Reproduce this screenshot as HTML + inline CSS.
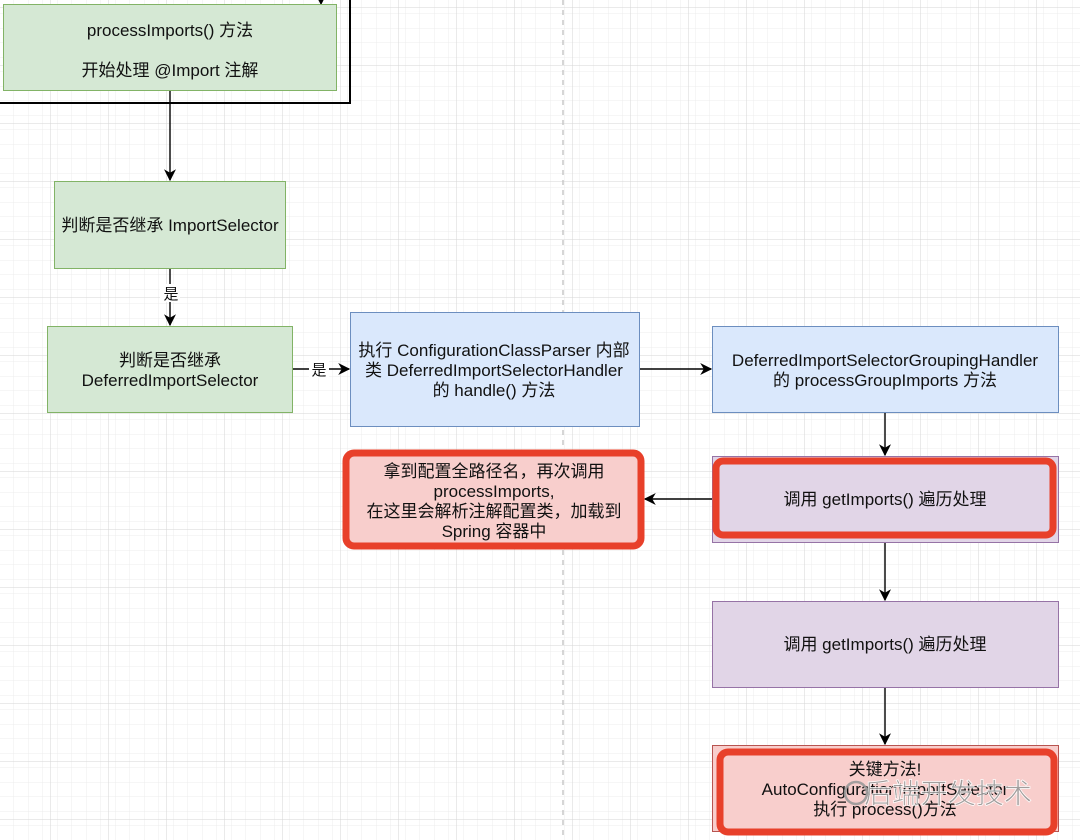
<!DOCTYPE html>
<html><head><meta charset="utf-8"><style>
html,body{margin:0;padding:0;background:#fff}
svg{display:block}
text{font-family:"Liberation Sans","Noto Sans CJK SC",sans-serif;font-size:17px;fill:#111;text-anchor:middle}
</style></head><body>
<svg width="1080" height="840" viewBox="0 0 1080 840" xmlns="http://www.w3.org/2000/svg">
<defs>
<pattern id="minor" x="-0.5" y="-0.5" width="14.5" height="14.5" patternUnits="userSpaceOnUse">
<path d="M14.5 0V14.5M0 14.5H14.5" stroke="#ececec" stroke-width="1" fill="none"/>
</pattern>
<pattern id="major" x="-8" y="7" width="58" height="58" patternUnits="userSpaceOnUse">
<path d="M0 0V58M0 0H58" stroke="#d6d6d6" stroke-width="1" fill="none"/>
</pattern>
<marker id="ar" viewBox="0 0 10 10" refX="9" refY="5" markerWidth="12" markerHeight="12" orient="auto" markerUnits="userSpaceOnUse">
<path d="M0 0L10 5L0 10L3 5z" fill="#000"/>
</marker>
</defs>
<rect width="1080" height="840" fill="#fff"/>
<rect width="1080" height="840" fill="url(#minor)"/>
<rect width="1080" height="840" fill="url(#major)"/>
<line x1="563" y1="0" x2="563" y2="840" stroke="#c8c8c8" stroke-width="1.5" stroke-dasharray="5 5"/>

<path d="M-5 103H350V-5" fill="none" stroke="#000" stroke-width="2"/>
<line x1="321" y1="-5" x2="321" y2="4" stroke="#000" marker-end="url(#ar)"/>

<rect x="3.5" y="4.5" width="333" height="86" fill="#d5e8d4" stroke="#82b366"/>
<text x="170" y="36">processImports() 方法</text>
<text x="170" y="76">开始处理 @Import 注解</text>

<line x1="170" y1="91" x2="170" y2="180" stroke="#000" stroke-width="1.4" marker-end="url(#ar)"/>

<rect x="54.5" y="181.5" width="231" height="87" fill="#d5e8d4" stroke="#82b366"/>
<text x="170" y="231">判断是否继承 ImportSelector</text>

<line x1="170" y1="269" x2="170" y2="325" stroke="#000" stroke-width="1.4" marker-end="url(#ar)"/>
<rect x="160" y="284" width="20" height="18" fill="#fff"/>
<text x="171" y="299" style="font-size:15px">是</text>

<rect x="47.5" y="326.5" width="245" height="86" fill="#d5e8d4" stroke="#82b366"/>
<text x="170" y="366">判断是否继承</text>
<text x="170" y="386">DeferredImportSelector</text>

<line x1="293" y1="369" x2="349" y2="369" stroke="#000" stroke-width="1.4" marker-end="url(#ar)"/>
<rect x="309" y="360" width="20" height="18" fill="#fff"/>
<text x="319" y="375" style="font-size:15px">是</text>

<rect x="350.5" y="312.5" width="289" height="114" fill="#dae8fc" stroke="#6c8ebf"/>
<text x="494" y="356">执行 ConfigurationClassParser 内部</text>
<text x="494" y="376">类 DeferredImportSelectorHandler</text>
<text x="494" y="396">的 handle() 方法</text>

<line x1="640" y1="369" x2="711" y2="369" stroke="#000" stroke-width="1.4" marker-end="url(#ar)"/>

<rect x="712.5" y="326.5" width="346" height="86" fill="#dae8fc" stroke="#6c8ebf"/>
<text x="885" y="366">DeferredImportSelectorGroupingHandler</text>
<text x="885" y="386">的 processGroupImports 方法</text>

<line x1="885" y1="413" x2="885" y2="455" stroke="#000" stroke-width="1.4" marker-end="url(#ar)"/>

<rect x="712.5" y="456.5" width="346" height="86" fill="#e1d5e7" stroke="#9673a6"/>
<rect x="716" y="461" width="337" height="74" rx="7" fill="none" stroke="#e8402a" stroke-width="7"/>
<text x="885" y="505">调用 getImports() 遍历处理</text>

<line x1="712" y1="499" x2="645" y2="499" stroke="#000" stroke-width="1.4" marker-end="url(#ar)"/>

<rect x="346" y="453" width="295" height="93" rx="8" fill="#f8cecc" stroke="#e8402a" stroke-width="7"/>
<text x="494" y="477">拿到配置全路径名，再次调用</text>
<text x="494" y="497">processImports,</text>
<text x="494" y="517">在这里会解析注解配置类，加载到</text>
<text x="494" y="537">Spring 容器中</text>

<line x1="885" y1="543" x2="885" y2="600" stroke="#000" stroke-width="1.4" marker-end="url(#ar)"/>

<rect x="712.5" y="601.5" width="346" height="86" fill="#e1d5e7" stroke="#9673a6"/>
<text x="885" y="650">调用 getImports() 遍历处理</text>

<line x1="885" y1="688" x2="885" y2="744" stroke="#000" stroke-width="1.4" marker-end="url(#ar)"/>

<rect x="712.5" y="745.5" width="346" height="86" fill="#f8cecc" stroke="#b85450"/>
<rect x="720" y="752" width="334" height="80" rx="8" fill="none" stroke="#e8402a" stroke-width="7"/>
<text x="885" y="775">关键方法!</text>
<text x="885" y="795">AutoConfigurationImportSelector</text>
<text x="885" y="815">执行 process()方法</text>
<text x="948" y="803" style="font-size:28px;fill:#999;stroke:#fff;stroke-width:0.8;opacity:0.9">后端开发技术</text>
<circle cx="856" cy="793" r="11" fill="none" stroke="#999" stroke-width="2.5" opacity="0.9"/>
</svg>
</body></html>
